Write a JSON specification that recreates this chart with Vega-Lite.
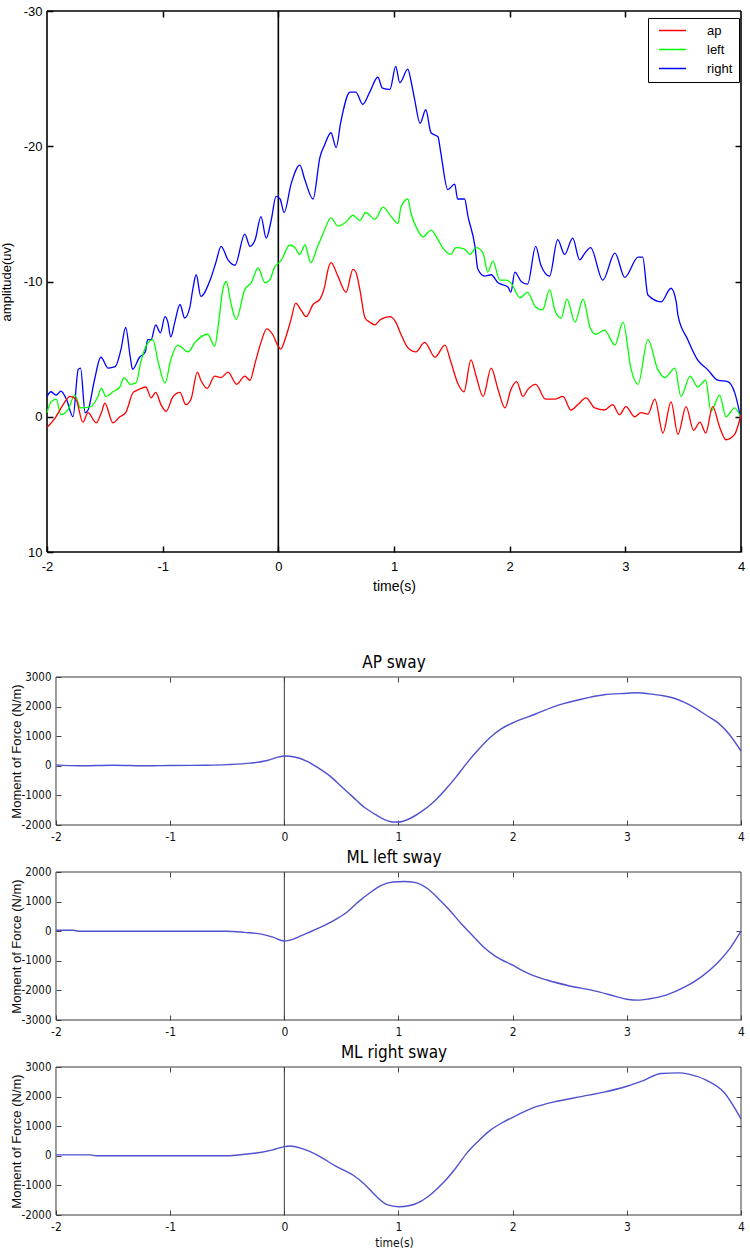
{
  "$schema": "https://vega.github.io/schema/vega-lite/v6.json",
  "background": "white",
  "padding": {"left": 0, "top": 5, "right": 5, "bottom": 0},
  "spacing": 61,
  "datasets": {
    "emg": [
      {"s":"right","t":-2.0,"v":-1.5},{"s":"right","t":-1.965,"v":-1.85},{"s":"right","t":-1.92,"v":-1.6},{"s":"right","t":-1.88,"v":-1.9},{"s":"right","t":-1.83,"v":-1.25},{"s":"right","t":-1.775,"v":0.0},{"s":"right","t":-1.73,"v":-3.5},{"s":"right","t":-1.71,"v":-3.6},{"s":"right","t":-1.67,"v":-0.3},{"s":"right","t":-1.645,"v":-0.5},{"s":"right","t":-1.59,"v":-2.7},{"s":"right","t":-1.535,"v":-4.4},{"s":"right","t":-1.47,"v":-3.6},{"s":"right","t":-1.41,"v":-3.7},{"s":"right","t":-1.36,"v":-5.0},{"s":"right","t":-1.32,"v":-6.6},{"s":"right","t":-1.28,"v":-4.4},{"s":"right","t":-1.26,"v":-3.5},{"s":"right","t":-1.2,"v":-4.4},{"s":"right","t":-1.15,"v":-4.8},{"s":"right","t":-1.13,"v":-5.7},{"s":"right","t":-1.1,"v":-5.7},{"s":"right","t":-1.06,"v":-6.8},{"s":"right","t":-1.02,"v":-6.2},{"s":"right","t":-0.98,"v":-7.4},{"s":"right","t":-0.955,"v":-7.0},{"s":"right","t":-0.93,"v":-5.9},{"s":"right","t":-0.895,"v":-7.0},{"s":"right","t":-0.85,"v":-8.3},{"s":"right","t":-0.81,"v":-7.3},{"s":"right","t":-0.765,"v":-8.1},{"s":"right","t":-0.74,"v":-9.4},{"s":"right","t":-0.71,"v":-10.5},{"s":"right","t":-0.67,"v":-8.9},{"s":"right","t":-0.59,"v":-10.1},{"s":"right","t":-0.54,"v":-11.4},{"s":"right","t":-0.495,"v":-12.6},{"s":"right","t":-0.435,"v":-11.6},{"s":"right","t":-0.375,"v":-11.2},{"s":"right","t":-0.29,"v":-13.5},{"s":"right","t":-0.245,"v":-12.6},{"s":"right","t":-0.2,"v":-13.1},{"s":"right","t":-0.15,"v":-14.8},{"s":"right","t":-0.105,"v":-13.2},{"s":"right","t":-0.06,"v":-14.6},{"s":"right","t":-0.02,"v":-16.3},{"s":"right","t":0.015,"v":-16.1},{"s":"right","t":0.05,"v":-15.1},{"s":"right","t":0.11,"v":-17.2},{"s":"right","t":0.185,"v":-18.6},{"s":"right","t":0.23,"v":-17.5},{"s":"right","t":0.3,"v":-16.1},{"s":"right","t":0.36,"v":-19.2},{"s":"right","t":0.4,"v":-20.1},{"s":"right","t":0.455,"v":-21.0},{"s":"right","t":0.5,"v":-19.9},{"s":"right","t":0.54,"v":-21.8},{"s":"right","t":0.62,"v":-24.0},{"s":"right","t":0.67,"v":-24.0},{"s":"right","t":0.73,"v":-23.1},{"s":"right","t":0.79,"v":-24.0},{"s":"right","t":0.86,"v":-25.1},{"s":"right","t":0.9,"v":-24.3},{"s":"right","t":0.965,"v":-24.2},{"s":"right","t":1.015,"v":-25.9},{"s":"right","t":1.05,"v":-24.7},{"s":"right","t":1.12,"v":-25.7},{"s":"right","t":1.145,"v":-24.9},{"s":"right","t":1.18,"v":-23.4},{"s":"right","t":1.225,"v":-21.7},{"s":"right","t":1.275,"v":-22.7},{"s":"right","t":1.32,"v":-21.0},{"s":"right","t":1.38,"v":-20.7},{"s":"right","t":1.405,"v":-19.5},{"s":"right","t":1.465,"v":-16.8},{"s":"right","t":1.525,"v":-17.2},{"s":"right","t":1.55,"v":-16.1},{"s":"right","t":1.61,"v":-16.1},{"s":"right","t":1.64,"v":-14.8},{"s":"right","t":1.7,"v":-12.6},{"s":"right","t":1.725,"v":-10.9},{"s":"right","t":1.785,"v":-10.4},{"s":"right","t":1.84,"v":-10.5},{"s":"right","t":1.9,"v":-9.9},{"s":"right","t":1.985,"v":-9.6},{"s":"right","t":2.01,"v":-9.2},{"s":"right","t":2.045,"v":-10.7},{"s":"right","t":2.1,"v":-10.0},{"s":"right","t":2.155,"v":-9.8},{"s":"right","t":2.225,"v":-12.6},{"s":"right","t":2.27,"v":-11.2},{"s":"right","t":2.345,"v":-10.4},{"s":"right","t":2.415,"v":-13.1},{"s":"right","t":2.475,"v":-12.0},{"s":"right","t":2.545,"v":-13.2},{"s":"right","t":2.605,"v":-11.6},{"s":"right","t":2.65,"v":-12.1},{"s":"right","t":2.7,"v":-12.5},{"s":"right","t":2.805,"v":-10.1},{"s":"right","t":2.91,"v":-12.1},{"s":"right","t":2.995,"v":-10.3},{"s":"right","t":3.11,"v":-11.8},{"s":"right","t":3.15,"v":-11.8},{"s":"right","t":3.195,"v":-9.0},{"s":"right","t":3.31,"v":-8.5},{"s":"right","t":3.395,"v":-9.5},{"s":"right","t":3.44,"v":-8.5},{"s":"right","t":3.455,"v":-7.5},{"s":"right","t":3.54,"v":-5.7},{"s":"right","t":3.625,"v":-4.2},{"s":"right","t":3.71,"v":-3.5},{"s":"right","t":3.8,"v":-2.7},{"s":"right","t":3.885,"v":-2.6},{"s":"right","t":3.945,"v":-1.8},{"s":"right","t":4.0,"v":0.2},
      {"s":"left","t":-2.0,"v":-0.3},{"s":"left","t":-1.965,"v":-1.1},{"s":"left","t":-1.92,"v":-1.3},{"s":"left","t":-1.88,"v":-0.15},{"s":"left","t":-1.82,"v":-0.5},{"s":"left","t":-1.76,"v":-1.6},{"s":"left","t":-1.71,"v":-0.65},{"s":"left","t":-1.62,"v":-0.75},{"s":"left","t":-1.56,"v":-1.5},{"s":"left","t":-1.53,"v":-2.1},{"s":"left","t":-1.49,"v":-1.5},{"s":"left","t":-1.43,"v":-1.85},{"s":"left","t":-1.37,"v":-2.2},{"s":"left","t":-1.335,"v":-2.9},{"s":"left","t":-1.28,"v":-2.4},{"s":"left","t":-1.23,"v":-2.5},{"s":"left","t":-1.19,"v":-4.0},{"s":"left","t":-1.145,"v":-5.2},{"s":"left","t":-1.085,"v":-5.7},{"s":"left","t":-1.04,"v":-4.1},{"s":"left","t":-0.98,"v":-2.5},{"s":"left","t":-0.93,"v":-4.2},{"s":"left","t":-0.87,"v":-5.3},{"s":"left","t":-0.78,"v":-4.8},{"s":"left","t":-0.72,"v":-5.5},{"s":"left","t":-0.61,"v":-6.1},{"s":"left","t":-0.55,"v":-5.2},{"s":"left","t":-0.52,"v":-6.7},{"s":"left","t":-0.48,"v":-9.4},{"s":"left","t":-0.45,"v":-10.0},{"s":"left","t":-0.41,"v":-8.4},{"s":"left","t":-0.365,"v":-7.2},{"s":"left","t":-0.29,"v":-9.4},{"s":"left","t":-0.235,"v":-9.9},{"s":"left","t":-0.175,"v":-11.0},{"s":"left","t":-0.115,"v":-9.9},{"s":"left","t":-0.075,"v":-10.1},{"s":"left","t":-0.03,"v":-11.1},{"s":"left","t":0.02,"v":-11.5},{"s":"left","t":0.1,"v":-12.7},{"s":"left","t":0.145,"v":-12.5},{"s":"left","t":0.185,"v":-12.0},{"s":"left","t":0.23,"v":-12.7},{"s":"left","t":0.28,"v":-11.4},{"s":"left","t":0.34,"v":-12.6},{"s":"left","t":0.385,"v":-13.5},{"s":"left","t":0.455,"v":-14.7},{"s":"left","t":0.515,"v":-14.1},{"s":"left","t":0.585,"v":-14.4},{"s":"left","t":0.645,"v":-14.9},{"s":"left","t":0.705,"v":-14.5},{"s":"left","t":0.755,"v":-15.1},{"s":"left","t":0.835,"v":-14.6},{"s":"left","t":0.905,"v":-15.5},{"s":"left","t":0.975,"v":-14.8},{"s":"left","t":1.035,"v":-14.3},{"s":"left","t":1.06,"v":-15.5},{"s":"left","t":1.12,"v":-16.1},{"s":"left","t":1.145,"v":-15.1},{"s":"left","t":1.205,"v":-13.8},{"s":"left","t":1.25,"v":-13.3},{"s":"left","t":1.32,"v":-13.8},{"s":"left","t":1.38,"v":-13.1},{"s":"left","t":1.42,"v":-12.5},{"s":"left","t":1.49,"v":-12.0},{"s":"left","t":1.535,"v":-12.5},{"s":"left","t":1.61,"v":-12.4},{"s":"left","t":1.655,"v":-12.0},{"s":"left","t":1.71,"v":-12.5},{"s":"left","t":1.77,"v":-12.1},{"s":"left","t":1.81,"v":-10.7},{"s":"left","t":1.855,"v":-11.5},{"s":"left","t":1.915,"v":-10.1},{"s":"left","t":1.97,"v":-10.1},{"s":"left","t":2.01,"v":-9.9},{"s":"left","t":2.09,"v":-8.8},{"s":"left","t":2.155,"v":-9.2},{"s":"left","t":2.225,"v":-8.1},{"s":"left","t":2.285,"v":-7.9},{"s":"left","t":2.345,"v":-9.4},{"s":"left","t":2.39,"v":-7.9},{"s":"left","t":2.445,"v":-7.3},{"s":"left","t":2.495,"v":-8.7},{"s":"left","t":2.565,"v":-7.0},{"s":"left","t":2.635,"v":-8.7},{"s":"left","t":2.695,"v":-6.6},{"s":"left","t":2.745,"v":-6.1},{"s":"left","t":2.82,"v":-6.4},{"s":"left","t":2.91,"v":-5.3},{"s":"left","t":2.98,"v":-7.0},{"s":"left","t":3.05,"v":-3.5},{"s":"left","t":3.11,"v":-2.4},{"s":"left","t":3.195,"v":-5.7},{"s":"left","t":3.28,"v":-3.5},{"s":"left","t":3.34,"v":-2.9},{"s":"left","t":3.43,"v":-3.6},{"s":"left","t":3.48,"v":-1.5},{"s":"left","t":3.56,"v":-3.0},{"s":"left","t":3.625,"v":-2.2},{"s":"left","t":3.695,"v":-2.7},{"s":"left","t":3.74,"v":-0.4},{"s":"left","t":3.815,"v":-1.6},{"s":"left","t":3.87,"v":0.0},{"s":"left","t":3.945,"v":-0.65},{"s":"left","t":4.0,"v":0.1},
      {"s":"ap","t":-2.0,"v":0.8},{"s":"ap","t":-1.93,"v":0.1},{"s":"ap","t":-1.86,"v":-0.9},{"s":"ap","t":-1.8,"v":-1.5},{"s":"ap","t":-1.75,"v":-1.3},{"s":"ap","t":-1.69,"v":0.4},{"s":"ap","t":-1.645,"v":-0.3},{"s":"ap","t":-1.575,"v":0.45},{"s":"ap","t":-1.53,"v":-0.3},{"s":"ap","t":-1.5,"v":-1.0},{"s":"ap","t":-1.43,"v":0.45},{"s":"ap","t":-1.37,"v":0.0},{"s":"ap","t":-1.32,"v":-0.3},{"s":"ap","t":-1.255,"v":-1.8},{"s":"ap","t":-1.21,"v":-2.0},{"s":"ap","t":-1.145,"v":-2.2},{"s":"ap","t":-1.1,"v":-1.4},{"s":"ap","t":-1.06,"v":-1.8},{"s":"ap","t":-1.015,"v":-0.9},{"s":"ap","t":-0.97,"v":-0.4},{"s":"ap","t":-0.91,"v":-1.5},{"s":"ap","t":-0.85,"v":-1.8},{"s":"ap","t":-0.8,"v":-0.9},{"s":"ap","t":-0.755,"v":-1.3},{"s":"ap","t":-0.7,"v":-3.3},{"s":"ap","t":-0.67,"v":-2.7},{"s":"ap","t":-0.615,"v":-2.1},{"s":"ap","t":-0.55,"v":-3.0},{"s":"ap","t":-0.495,"v":-2.9},{"s":"ap","t":-0.435,"v":-3.3},{"s":"ap","t":-0.36,"v":-2.4},{"s":"ap","t":-0.29,"v":-3.0},{"s":"ap","t":-0.245,"v":-2.7},{"s":"ap","t":-0.2,"v":-4.0},{"s":"ap","t":-0.15,"v":-5.5},{"s":"ap","t":-0.1,"v":-6.5},{"s":"ap","t":-0.05,"v":-6.1},{"s":"ap","t":0.0,"v":-5.2},{"s":"ap","t":0.02,"v":-5.0},{"s":"ap","t":0.065,"v":-5.9},{"s":"ap","t":0.11,"v":-7.2},{"s":"ap","t":0.15,"v":-8.4},{"s":"ap","t":0.195,"v":-7.9},{"s":"ap","t":0.24,"v":-7.4},{"s":"ap","t":0.3,"v":-8.3},{"s":"ap","t":0.36,"v":-8.7},{"s":"ap","t":0.4,"v":-9.6},{"s":"ap","t":0.43,"v":-10.9},{"s":"ap","t":0.455,"v":-11.4},{"s":"ap","t":0.515,"v":-10.4},{"s":"ap","t":0.585,"v":-9.2},{"s":"ap","t":0.645,"v":-10.9},{"s":"ap","t":0.67,"v":-10.7},{"s":"ap","t":0.705,"v":-9.4},{"s":"ap","t":0.75,"v":-7.3},{"s":"ap","t":0.79,"v":-7.0},{"s":"ap","t":0.835,"v":-6.8},{"s":"ap","t":0.885,"v":-7.2},{"s":"ap","t":0.965,"v":-7.4},{"s":"ap","t":1.015,"v":-7.0},{"s":"ap","t":1.06,"v":-6.1},{"s":"ap","t":1.12,"v":-5.1},{"s":"ap","t":1.19,"v":-4.8},{"s":"ap","t":1.265,"v":-5.5},{"s":"ap","t":1.355,"v":-4.4},{"s":"ap","t":1.44,"v":-5.3},{"s":"ap","t":1.49,"v":-4.1},{"s":"ap","t":1.55,"v":-2.5},{"s":"ap","t":1.605,"v":-1.85},{"s":"ap","t":1.665,"v":-4.2},{"s":"ap","t":1.71,"v":-3.0},{"s":"ap","t":1.77,"v":-1.5},{"s":"ap","t":1.84,"v":-3.6},{"s":"ap","t":1.9,"v":-2.0},{"s":"ap","t":1.96,"v":-0.65},{"s":"ap","t":2.01,"v":-2.0},{"s":"ap","t":2.06,"v":-2.6},{"s":"ap","t":2.115,"v":-1.5},{"s":"ap","t":2.155,"v":-2.0},{"s":"ap","t":2.225,"v":-2.4},{"s":"ap","t":2.31,"v":-1.3},{"s":"ap","t":2.39,"v":-1.3},{"s":"ap","t":2.46,"v":-1.5},{"s":"ap","t":2.53,"v":-0.5},{"s":"ap","t":2.59,"v":-0.9},{"s":"ap","t":2.66,"v":-1.4},{"s":"ap","t":2.735,"v":-0.65},{"s":"ap","t":2.82,"v":-0.5},{"s":"ap","t":2.89,"v":-0.9},{"s":"ap","t":2.95,"v":-0.15},{"s":"ap","t":3.005,"v":-0.75},{"s":"ap","t":3.08,"v":0.0},{"s":"ap","t":3.135,"v":-0.3},{"s":"ap","t":3.195,"v":-0.2},{"s":"ap","t":3.255,"v":-1.3},{"s":"ap","t":3.325,"v":1.2},{"s":"ap","t":3.395,"v":-1.1},{"s":"ap","t":3.455,"v":1.3},{"s":"ap","t":3.525,"v":-0.75},{"s":"ap","t":3.59,"v":1.0},{"s":"ap","t":3.645,"v":0.4},{"s":"ap","t":3.695,"v":1.2},{"s":"ap","t":3.755,"v":-0.75},{"s":"ap","t":3.815,"v":0.75},{"s":"ap","t":3.87,"v":1.7},{"s":"ap","t":3.945,"v":1.3},{"s":"ap","t":4.0,"v":-0.15}
    ],
    "topframe": [
      {"t":-2,"t2":4,"v":-30,"v2":-30},
      {"t":-2,"t2":4,"v":10,"v2":10},
      {"t":-2,"t2":-2,"v":-30,"v2":10},
      {"t":4,"t2":4,"v":-30,"v2":10},
      {"t":0,"t2":0,"v":-30,"v2":10}
    ],
    "frame23": [
      {"t":-2,"t2":4,"v":3000,"v2":3000},
      {"t":-2,"t2":4,"v":-2000,"v2":-2000},
      {"t":-2,"t2":-2,"v":-2000,"v2":3000},
      {"t":4,"t2":4,"v":-2000,"v2":3000},
      {"t":0,"t2":0,"v":-2000,"v2":3000}
    ],
    "frame32": [
      {"t":-2,"t2":4,"v":2000,"v2":2000},
      {"t":-2,"t2":4,"v":-3000,"v2":-3000},
      {"t":-2,"t2":-2,"v":-3000,"v2":2000},
      {"t":4,"t2":4,"v":-3000,"v2":2000},
      {"t":0,"t2":0,"v":-3000,"v2":2000}
    ],
    "ap": [
      {"t":-2,"v":30},{"t":-1.8,"v":0},{"t":-1.5,"v":20},{"t":-1.2,"v":0},{"t":-1,"v":10},{"t":-0.7,"v":20},{"t":-0.5,"v":40},{"t":-0.3,"v":90},{"t":-0.15,"v":180},{"t":-0.05,"v":300},{"t":0,"v":330},{"t":0.1,"v":290},{"t":0.2,"v":150},{"t":0.3,"v":-80},{"t":0.4,"v":-350},{"t":0.5,"v":-700},{"t":0.6,"v":-1050},{"t":0.7,"v":-1400},{"t":0.8,"v":-1650},{"t":0.9,"v":-1850},{"t":0.95,"v":-1900},{"t":1.0,"v":-1900},{"t":1.1,"v":-1780},{"t":1.2,"v":-1550},{"t":1.3,"v":-1250},{"t":1.4,"v":-850},{"t":1.5,"v":-400},{"t":1.6,"v":100},{"t":1.7,"v":550},{"t":1.8,"v":950},{"t":1.9,"v":1250},{"t":2.0,"v":1450},{"t":2.2,"v":1750},{"t":2.4,"v":2050},{"t":2.6,"v":2250},{"t":2.8,"v":2400},{"t":3.0,"v":2450},{"t":3.1,"v":2470},{"t":3.2,"v":2430},{"t":3.3,"v":2380},{"t":3.4,"v":2300},{"t":3.5,"v":2150},{"t":3.6,"v":1950},{"t":3.7,"v":1700},{"t":3.8,"v":1450},{"t":3.9,"v":1050},{"t":4.0,"v":500}
    ],
    "mll": [
      {"t":-2,"v":30},{"t":-1.85,"v":30},{"t":-1.8,"v":0},{"t":-1,"v":0},{"t":-0.5,"v":0},{"t":-0.35,"v":-40},{"t":-0.2,"v":-100},{"t":-0.1,"v":-200},{"t":0,"v":-330},{"t":0.05,"v":-300},{"t":0.15,"v":-150},{"t":0.3,"v":100},{"t":0.45,"v":400},{"t":0.55,"v":650},{"t":0.65,"v":1000},{"t":0.75,"v":1300},{"t":0.85,"v":1550},{"t":0.95,"v":1660},{"t":1.05,"v":1680},{"t":1.15,"v":1640},{"t":1.25,"v":1450},{"t":1.35,"v":1100},{"t":1.45,"v":700},{"t":1.55,"v":250},{"t":1.65,"v":-150},{"t":1.75,"v":-550},{"t":1.85,"v":-850},{"t":2.0,"v":-1150},{"t":2.15,"v":-1450},{"t":2.3,"v":-1650},{"t":2.5,"v":-1850},{"t":2.7,"v":-2000},{"t":2.9,"v":-2200},{"t":3.0,"v":-2300},{"t":3.1,"v":-2330},{"t":3.2,"v":-2280},{"t":3.35,"v":-2150},{"t":3.5,"v":-1900},{"t":3.65,"v":-1550},{"t":3.8,"v":-1050},{"t":3.9,"v":-600},{"t":4.0,"v":0}
    ],
    "mlr": [
      {"t":-2,"v":30},{"t":-1.7,"v":30},{"t":-1.65,"v":0},{"t":-0.5,"v":0},{"t":-0.35,"v":50},{"t":-0.2,"v":120},{"t":-0.1,"v":200},{"t":0,"v":310},{"t":0.05,"v":330},{"t":0.15,"v":250},{"t":0.3,"v":0},{"t":0.45,"v":-350},{"t":0.6,"v":-650},{"t":0.7,"v":-950},{"t":0.8,"v":-1350},{"t":0.9,"v":-1650},{"t":1.0,"v":-1720},{"t":1.1,"v":-1680},{"t":1.2,"v":-1530},{"t":1.3,"v":-1250},{"t":1.4,"v":-880},{"t":1.5,"v":-420},{"t":1.6,"v":100},{"t":1.7,"v":500},{"t":1.8,"v":850},{"t":1.9,"v":1100},{"t":2.0,"v":1300},{"t":2.2,"v":1650},{"t":2.4,"v":1850},{"t":2.6,"v":2000},{"t":2.8,"v":2150},{"t":3.0,"v":2350},{"t":3.15,"v":2550},{"t":3.3,"v":2780},{"t":3.45,"v":2800},{"t":3.55,"v":2750},{"t":3.7,"v":2550},{"t":3.85,"v":2150},{"t":4.0,"v":1250}
    ]
  },
  "vconcat": [
    {
      "width": 694,
      "height": 541,
      "resolve": {"axis": {"x": "independent", "y": "independent"}},
      "layer": [
        {
          "data": {"name": "topframe"},
          "mark": {"type": "rule", "color": "black", "strokeWidth": 1.6},
          "encoding": {
            "x": {"field": "t", "type": "quantitative", "scale": {"domain": [-2, 4], "nice": false, "zero": false},
                  "axis": {"orient": "top", "values": [-1, 0, 1, 2, 3], "labels": false, "domain": false, "grid": false, "tickSize": -6, "tickColor": "black", "tickWidth": 1.5, "title": null}},
            "x2": {"field": "t2"},
            "y": {"field": "v", "type": "quantitative", "scale": {"domain": [-30, 10], "reverse": true, "nice": false, "zero": false},
                  "axis": {"orient": "right", "values": [-20, -10, 0], "labels": false, "domain": false, "grid": false, "tickSize": -6, "tickColor": "black", "tickWidth": 1.5, "title": null}},
            "y2": {"field": "v2"}
          }
        },
        {
          "data": {"name": "emg"},
          "mark": {"type": "line", "strokeWidth": 1.3, "interpolate": "monotone"},
          "encoding": {
            "x": {"field": "t", "type": "quantitative", "scale": {"domain": [-2, 4], "nice": false, "zero": false},
                  "axis": {"orient": "bottom", "values": [-2, -1, 0, 1, 2, 3, 4], "format": "d", "domain": false, "grid": false, "tickSize": -6, "tickColor": "black", "tickWidth": 1.5, "labelPadding": 14, "labelFont": "Liberation Sans", "labelFontSize": 13, "labelColor": "black", "labelFlush": false, "labelOverlap": false, "title": "time(s)", "titleFont": "Liberation Sans", "titleFontSize": 14, "titleFontWeight": "normal", "titleColor": "black", "titlePadding": 6}},
            "y": {"field": "v", "type": "quantitative", "scale": {"domain": [-30, 10], "reverse": true, "nice": false, "zero": false},
                  "axis": {"orient": "left", "values": [-30, -20, -10, 0, 10], "format": "d", "domain": false, "grid": false, "tickSize": -6, "tickColor": "black", "tickWidth": 1.5, "labelPadding": 11, "labelFont": "Liberation Sans", "labelFontSize": 13, "labelColor": "black", "labelFlush": false, "labelOverlap": false, "title": "amplitude(uv)", "titleFont": "Liberation Sans", "titleFontSize": 13, "titleFontWeight": "normal", "titleColor": "black", "titlePadding": 10}},
            "color": {"field": "s", "type": "nominal",
                      "scale": {"domain": ["ap", "left", "right"], "range": ["#ff0000", "#00ff00", "#0000ff"]},
                      "legend": {"orient": "none", "legendX": 601, "legendY": 7, "title": null, "direction": "vertical",
                                 "symbolType": "M-2.7,0H2.7", "symbolSize": 100, "symbolStrokeWidth": 1.5, "symbolOffset": 12,
                                 "labelFont": "Liberation Sans", "labelFontSize": 13, "labelColor": "black", "labelOffset": 28,
                                 "strokeColor": "black", "fillColor": "white", "padding": 6, "rowPadding": 5}}
          }
        }
      ]
    },
    {
      "spacing": 7,
      "vconcat": [
        {
          "title": {"text": "AP sway", "frame": "group", "font": "Liberation Sans Narrow, Arial Narrow, DejaVu Sans Condensed, sans-serif", "fontSize": 17, "fontWeight": "normal", "color": "black", "offset": -1},
          "width": 694,
          "height": 148,
          "resolve": {"axis": {"x": "independent", "y": "independent"}},
          "layer": [
            {
              "data": {"name": "frame23"},
              "mark": {"type": "rule", "color": "#3a3a3a", "strokeWidth": 1},
              "encoding": {
                "x": {"field": "t", "type": "quantitative", "scale": {"domain": [-2.07883, 4], "nice": false, "zero": false},
                      "axis": {"orient": "top", "values": [-1, 0, 1, 2, 3], "labels": false, "domain": false, "grid": false, "tickSize": -5, "tickColor": "#444", "title": null}},
                "x2": {"field": "t2"},
                "y": {"field": "v", "type": "quantitative", "scale": {"domain": [-2000, 3000], "nice": false, "zero": false},
                      "axis": {"orient": "right", "values": [-1000, 0, 1000, 2000], "labels": false, "domain": false, "grid": false, "tickSize": -5, "tickColor": "#444", "title": null}},
                "y2": {"field": "v2"}
              }
            },
            {
              "data": {"name": "ap"},
              "mark": {"type": "line", "color": "#5050d0", "strokeWidth": 1.4, "interpolate": "monotone"},
              "encoding": {
                "x": {"field": "t", "type": "quantitative", "scale": {"domain": [-2.07883, 4], "nice": false, "zero": false},
                      "axis": {"orient": "bottom", "values": [-2, -1, 0, 1, 2, 3, 4], "format": "d", "domain": false, "grid": false, "tickSize": -5, "tickColor": "#444", "labelPadding": 11, "labelFont": "Liberation Sans Narrow, Arial Narrow, DejaVu Sans Condensed, sans-serif", "labelFontSize": 12, "labelColor": "#111", "labelFlush": false, "labelOverlap": false, "title": null}},
                "y": {"field": "v", "type": "quantitative", "scale": {"domain": [-2000, 3000], "nice": false, "zero": false},
                      "axis": {"orient": "left", "offset": -9, "values": [-2000, -1000, 0, 1000, 2000, 3000], "format": "d", "domain": false, "grid": false, "tickSize": -5, "tickColor": "#444", "labelPadding": 10, "labelFont": "Liberation Sans Narrow, Arial Narrow, DejaVu Sans Condensed, sans-serif", "labelFontSize": 11.5, "labelColor": "#111", "labelFlush": false, "labelOverlap": false, "title": "Moment of Force (N/m)", "titleFont": "Liberation Sans", "titleFontSize": 13, "titleFontWeight": "normal", "titleColor": "#111", "titlePadding": -3}}
              }
            }
          ]
        },
        {
          "title": {"text": "ML left sway", "frame": "group", "font": "Liberation Sans Narrow, Arial Narrow, DejaVu Sans Condensed, sans-serif", "fontSize": 17, "fontWeight": "normal", "color": "black", "offset": -1},
          "width": 694,
          "height": 148,
          "resolve": {"axis": {"x": "independent", "y": "independent"}},
          "layer": [
            {
              "data": {"name": "frame32"},
              "mark": {"type": "rule", "color": "#3a3a3a", "strokeWidth": 1},
              "encoding": {
                "x": {"field": "t", "type": "quantitative", "scale": {"domain": [-2.07883, 4], "nice": false, "zero": false},
                      "axis": {"orient": "top", "values": [-1, 0, 1, 2, 3], "labels": false, "domain": false, "grid": false, "tickSize": -5, "tickColor": "#444", "title": null}},
                "x2": {"field": "t2"},
                "y": {"field": "v", "type": "quantitative", "scale": {"domain": [-3000, 2000], "nice": false, "zero": false},
                      "axis": {"orient": "right", "values": [-2000, -1000, 0, 1000], "labels": false, "domain": false, "grid": false, "tickSize": -5, "tickColor": "#444", "title": null}},
                "y2": {"field": "v2"}
              }
            },
            {
              "data": {"name": "mll"},
              "mark": {"type": "line", "color": "#5050d0", "strokeWidth": 1.4, "interpolate": "monotone"},
              "encoding": {
                "x": {"field": "t", "type": "quantitative", "scale": {"domain": [-2.07883, 4], "nice": false, "zero": false},
                      "axis": {"orient": "bottom", "values": [-2, -1, 0, 1, 2, 3, 4], "format": "d", "domain": false, "grid": false, "tickSize": -5, "tickColor": "#444", "labelPadding": 11, "labelFont": "Liberation Sans Narrow, Arial Narrow, DejaVu Sans Condensed, sans-serif", "labelFontSize": 12, "labelColor": "#111", "labelFlush": false, "labelOverlap": false, "title": null}},
                "y": {"field": "v", "type": "quantitative", "scale": {"domain": [-3000, 2000], "nice": false, "zero": false},
                      "axis": {"orient": "left", "offset": -9, "values": [-3000, -2000, -1000, 0, 1000, 2000], "format": "d", "domain": false, "grid": false, "tickSize": -5, "tickColor": "#444", "labelPadding": 10, "labelFont": "Liberation Sans Narrow, Arial Narrow, DejaVu Sans Condensed, sans-serif", "labelFontSize": 11.5, "labelColor": "#111", "labelFlush": false, "labelOverlap": false, "title": "Moment of Force (N/m)", "titleFont": "Liberation Sans", "titleFontSize": 13, "titleFontWeight": "normal", "titleColor": "#111", "titlePadding": -3}}
              }
            }
          ]
        },
        {
          "title": {"text": "ML right sway", "frame": "group", "font": "Liberation Sans Narrow, Arial Narrow, DejaVu Sans Condensed, sans-serif", "fontSize": 17, "fontWeight": "normal", "color": "black", "offset": -1},
          "width": 694,
          "height": 148,
          "resolve": {"axis": {"x": "independent", "y": "independent"}},
          "layer": [
            {
              "data": {"name": "frame23"},
              "mark": {"type": "rule", "color": "#3a3a3a", "strokeWidth": 1},
              "encoding": {
                "x": {"field": "t", "type": "quantitative", "scale": {"domain": [-2.07883, 4], "nice": false, "zero": false},
                      "axis": {"orient": "top", "values": [-1, 0, 1, 2, 3], "labels": false, "domain": false, "grid": false, "tickSize": -5, "tickColor": "#444", "title": null}},
                "x2": {"field": "t2"},
                "y": {"field": "v", "type": "quantitative", "scale": {"domain": [-2000, 3000], "nice": false, "zero": false},
                      "axis": {"orient": "right", "values": [-1000, 0, 1000, 2000], "labels": false, "domain": false, "grid": false, "tickSize": -5, "tickColor": "#444", "title": null}},
                "y2": {"field": "v2"}
              }
            },
            {
              "data": {"name": "mlr"},
              "mark": {"type": "line", "color": "#5050d0", "strokeWidth": 1.4, "interpolate": "monotone"},
              "encoding": {
                "x": {"field": "t", "type": "quantitative", "scale": {"domain": [-2.07883, 4], "nice": false, "zero": false},
                      "axis": {"orient": "bottom", "values": [-2, -1, 0, 1, 2, 3, 4], "format": "d", "domain": false, "grid": false, "tickSize": -5, "tickColor": "#444", "labelPadding": 11, "labelFont": "Liberation Sans Narrow, Arial Narrow, DejaVu Sans Condensed, sans-serif", "labelFontSize": 12, "labelColor": "#111", "labelFlush": false, "labelOverlap": false, "title": "time(s)", "titleFont": "Liberation Sans Narrow, Arial Narrow, DejaVu Sans Condensed, sans-serif", "titleFontSize": 12, "titleFontWeight": "normal", "titleColor": "#111", "titlePadding": 5}},
                "y": {"field": "v", "type": "quantitative", "scale": {"domain": [-2000, 3000], "nice": false, "zero": false},
                      "axis": {"orient": "left", "offset": -9, "values": [-2000, -1000, 0, 1000, 2000, 3000], "format": "d", "domain": false, "grid": false, "tickSize": -5, "tickColor": "#444", "labelPadding": 10, "labelFont": "Liberation Sans Narrow, Arial Narrow, DejaVu Sans Condensed, sans-serif", "labelFontSize": 11.5, "labelColor": "#111", "labelFlush": false, "labelOverlap": false, "title": "Moment of Force (N/m)", "titleFont": "Liberation Sans", "titleFontSize": 13, "titleFontWeight": "normal", "titleColor": "#111", "titlePadding": -3}}
              }
            }
          ]
        }
      ]
    }
  ],
  "config": {
    "view": {"stroke": null},
    "locale": {"number": {"decimal": ".", "thousands": "", "grouping": [3], "currency": ["$", ""], "minus": "-"}}
  }
}
